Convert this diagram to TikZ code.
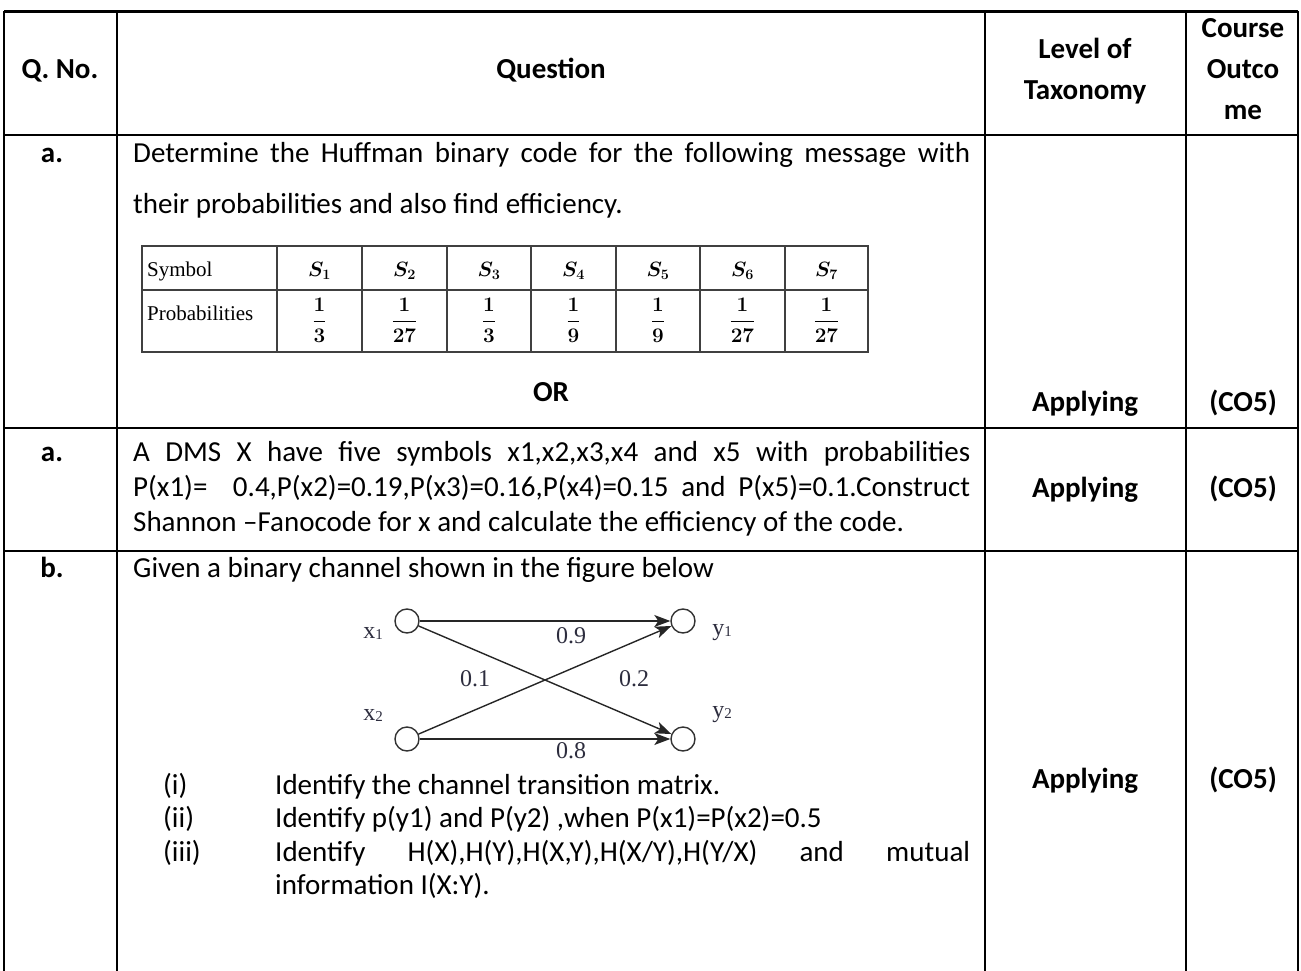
\documentclass[tikz,border=0pt]{standalone}
\usepackage{fontspec}
\setmainfont{Carlito}
\newfontfamily\serifx{Liberation Serif}
\usetikzlibrary{arrows.meta}
\definecolor{labc}{RGB}{45,45,62}
\begin{document}
\begin{tikzpicture}[x=1pt,y=-1pt,
  body/.style={font=\fontsize{29}{35}\selectfont, inner sep=0, anchor=base west},
  hd/.style={font=\fontsize{29}{35}\selectfont\bfseries, inner sep=0, anchor=base},
  gridln/.style={line width=2pt, line cap=rect},
  itab/.style={line width=1.1pt, draw=black!75},
  itxt/.style={font=\serifx\fontsize{21}{23}\selectfont, inner sep=0},
  imath/.style={font=\fontsize{21}{23}\selectfont\boldmath, inner sep=0},
  circ/.style={circle, draw=black!80, line width=1.4pt, minimum size=24pt, inner sep=0},
  lab/.style={font=\serifx\fontsize{24}{26}\selectfont, text=labc, inner sep=0},
  arr/.style={-{Stealth[length=16pt,width=12pt,inset=4pt]}, line width=1.4pt, draw=black!85}
]
\useasboundingbox (0,0) rectangle (1301,971);
% ---- outer grid ----
\draw[line width=3pt] (4,12) -- (1298,12);
\draw[gridln] (4,12) -- (4,971);
\draw[gridln] (117,12) -- (117,971);
\draw[gridln] (985,12) -- (985,971);
\draw[gridln] (1186,12) -- (1186,971);
\draw[gridln] (1298,12) -- (1298,971);
\draw[gridln] (4,135) -- (1298,135);
\draw[gridln] (4,428) -- (1298,428);
\draw[gridln] (4,551) -- (1298,551);
% ---- header ----
\node[hd] (hq) at (60,79) {Q. No.};
\node[hd] (hques) at (551,79) {Question};
\node[hd] (hl1) at (1085,59) {Level of};
\node[hd] (hl2) at (1085,100) {Taxonomy};
\node[hd] (hc1) at (1243,38) {Course};
\node[hd] (hc2) at (1243,79) {Outco};
\node[hd] (hc3) at (1243,120) {me};
% ---- row 1 ----
\node[hd] (qa1) at (52,163) {a.};
\node[body] (r1l1) at (133,163) {\makebox[837pt][s]{Determine the Huffman binary code for the following message with}};
\node[body] (r1l2) at (133,213) {their probabilities and also find efficiency.};
% inner table
\draw[itab] (142,246) rectangle (868,352);
\draw[itab] (142,290) -- (868,290);
\foreach \xx in {277,362,447,531,616,700,785} \draw[itab] (\xx,246) -- (\xx,352);
\node[itxt, anchor=base west] (tsym) at (147,276) {Symbol};
\node[itxt, anchor=base west] (tprob) at (147,320) {Probabilities};
\node[imath] (ts1) at (319.5,271) {$S_1$};
\node[imath] (ts2) at (404.5,271) {$S_2$};
\node[imath] (ts3) at (489,271) {$S_3$};
\node[imath] (ts4) at (573.5,271) {$S_4$};
\node[imath] (ts5) at (658,271) {$S_5$};
\node[imath] (ts6) at (742.5,271) {$S_6$};
\node[imath] (ts7) at (826.5,271) {$S_7$};
\node[imath] (tp1) at (319.5,320) {$\displaystyle\frac{1}{3}$};
\node[imath] (tp2) at (404.5,320) {$\displaystyle\frac{1}{27}$};
\node[imath] (tp3) at (489,320) {$\displaystyle\frac{1}{3}$};
\node[imath] (tp4) at (573.5,320) {$\displaystyle\frac{1}{9}$};
\node[imath] (tp5) at (658,320) {$\displaystyle\frac{1}{9}$};
\node[imath] (tp6) at (742.5,320) {$\displaystyle\frac{1}{27}$};
\node[imath] (tp7) at (826.5,320) {$\displaystyle\frac{1}{27}$};
\node[hd] (or) at (551,401) {OR};
\node[hd] (ap1) at (1085,411) {Applying};
\node[hd] (co1) at (1243,411) {(CO5)};
% ---- row 2 ----
\node[hd] (qa2) at (52,461) {a.};
\node[body] (r2l1) at (133,461) {\makebox[837pt][s]{A DMS X have five symbols x1,x2,x3,x4 and x5 with probabilities}};
\node[body] (r2l2) at (133,496) {\makebox[837pt][s]{P(x1)= \ 0.4,P(x2)=0.19,P(x3)=0.16,P(x4)=0.15 and P(x5)=0.1.Construct}};
\node[body] (r2l3) at (133,531) {Shannon –Fanocode for x and calculate the efficiency of the code.};
\node[hd] (ap2) at (1085,497) {Applying};
\node[hd] (co2) at (1243,497) {(CO5)};
% ---- row 3 ----
\node[hd] (qb) at (52,577) {b.};
\node[body] (r3l1) at (133,577) {Given a binary channel shown in the figure below};
% channel diagram
\node[circ] (X1) at (407,621) {};
\node[circ] (Y1) at (683,621) {};
\node[circ] (X2) at (407,739) {};
\node[circ] (Y2) at (683,739) {};
\draw[arr] (X1) -- (Y1);
\draw[arr] (X1) -- (Y2);
\draw[arr] (X2) -- (Y1);
\draw[arr] (X2) -- (Y2);
\node[lab] (lx1) at (373,633) {x\raisebox{-1pt}{\fontsize{15}{15}\selectfont 1}};
\node[lab] (lx2) at (373,715) {x\raisebox{-1pt}{\fontsize{15}{15}\selectfont 2}};
\node[lab] (ly1) at (722,633) {y\raisebox{-1pt}{\fontsize{15}{15}\selectfont 1}};
\node[lab] (ly2) at (722,715) {y\raisebox{-1pt}{\fontsize{15}{15}\selectfont 2}};
\node[lab] (p09) at (571,636) {0.9};
\node[lab] (p01) at (475,679) {0.1};
\node[lab] (p02) at (634,679) {0.2};
\node[lab] (p08) at (571,751) {0.8};
% items
\node[body] (i1) at (163,794) {(i)};
\node[body] (t1) at (275,794) {Identify the channel transition matrix.};
\node[body] (i2) at (163,827) {(ii)};
\node[body] (t2) at (275,827) {Identify p(y1) and P(y2) ,when P(x1)=P(x2)=0.5};
\node[body] (i3) at (163,861) {(iii)};
\node[body] (t3) at (275,861) {\makebox[695pt][s]{Identify H(X),H(Y),H(X,Y),H(X/Y),H(Y/X) and mutual}};
\node[body] (t4) at (275,894) {information I(X:Y).};
\node[hd] (ap3) at (1085,788) {Applying};
\node[hd] (co3) at (1243,788) {(CO5)};
\end{tikzpicture}
\end{document}
